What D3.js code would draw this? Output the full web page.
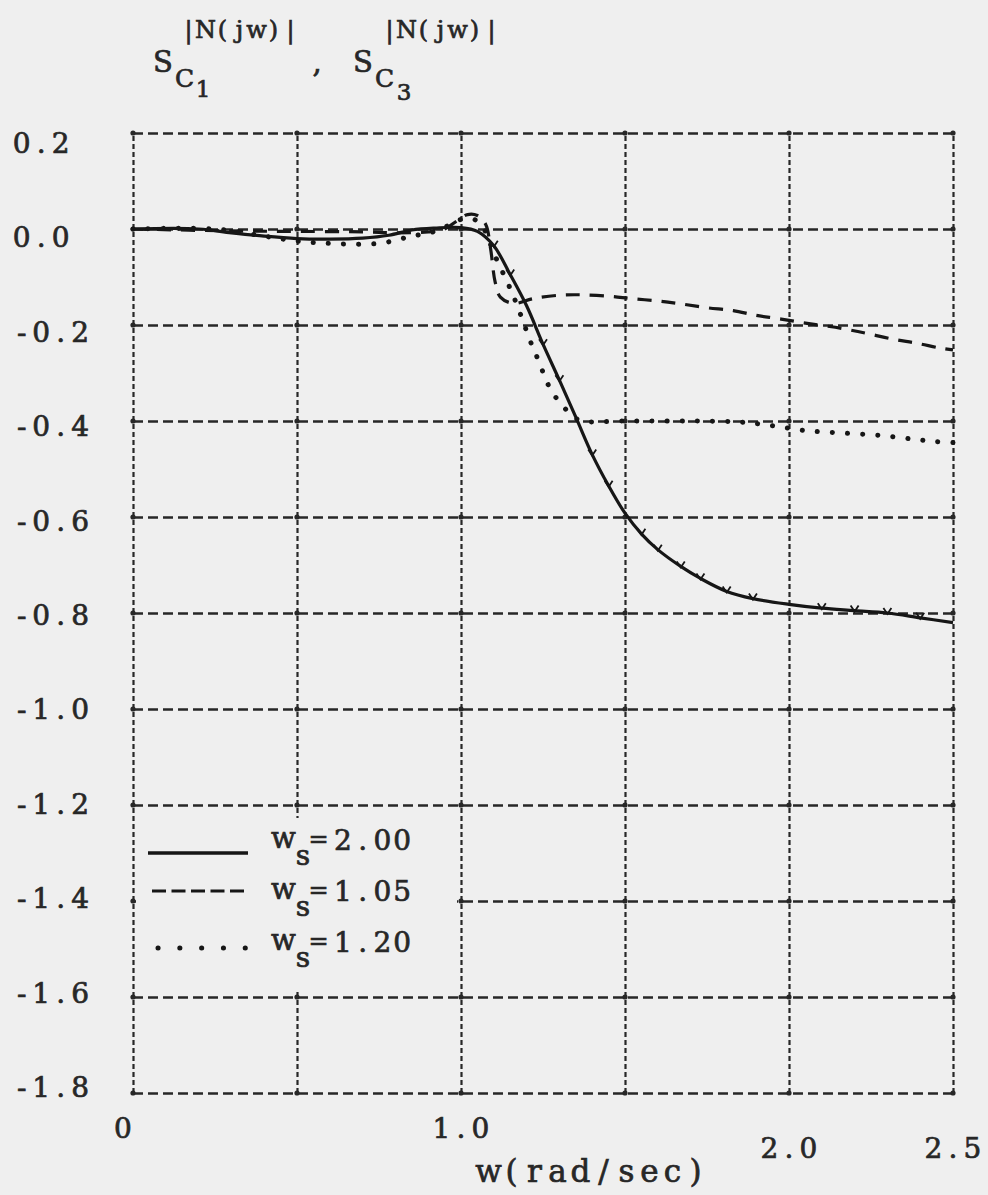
<!DOCTYPE html>
<html>
<head>
<meta charset="utf-8">
<script src="https://cdn.jsdelivr.net/npm/d3@7"></script>
<style>
  html, body { margin: 0; padding: 0; background: #efefef; }
  #stage { width: 988px; height: 1195px; }
</style>
</head>
<body>
<div id="stage"></div>
<script>
// frequency axis (rad/sec) and sensitivity values
const solidW = [0, 0.2, 0.3, 0.4, 0.5, 0.6, 0.7, 0.78, 0.85, 0.92, 1.0, 1.05, 1.1, 1.15, 1.2, 1.25, 1.3, 1.35, 1.4, 1.45, 1.5, 1.55, 1.6, 1.67, 1.73, 1.81, 1.89, 2.0, 2.1, 2.2, 2.3, 2.4, 2.5];
const solidV = [0, 0, -0.008, -0.015, -0.02, -0.021, -0.019, -0.013, -0.002, 0.002, 0.003, -0.005, -0.035, -0.095, -0.16, -0.24, -0.315, -0.392, -0.47, -0.535, -0.592, -0.635, -0.668, -0.703, -0.728, -0.755, -0.77, -0.782, -0.79, -0.795, -0.8, -0.81, -0.82];

const dashedW = [0, 0.3, 0.5, 0.7, 0.8, 0.9, 0.95, 0.99, 1.02, 1.05, 1.075, 1.09, 1.104, 1.12, 1.16, 1.22, 1.3, 1.36, 1.45, 1.52, 1.6, 1.67, 1.75, 1.83, 1.9, 1.97, 2.05, 2.16, 2.24, 2.32, 2.39, 2.46, 2.5];
const dashedV = [0, -0.004, -0.005, -0.006, -0.008, -0.006, 0, 0.018, 0.03, 0.028, 0.01, -0.04, -0.11, -0.142, -0.155, -0.145, -0.138, -0.137, -0.14, -0.145, -0.15, -0.156, -0.164, -0.17, -0.18, -0.187, -0.196, -0.207, -0.218, -0.23, -0.238, -0.248, -0.252];

const dottedW = [0, 0.25, 0.4, 0.5, 0.6, 0.75, 0.85, 0.92, 0.97, 1.0, 1.04, 1.07, 1.1, 1.16, 1.215, 1.24, 1.26, 1.283, 1.31, 1.34, 1.37, 1.5, 1.7, 1.85, 1.95, 2.05, 2.16, 2.28, 2.38, 2.45, 2.5];
const dottedV = [0, 0, -0.015, -0.025, -0.03, -0.03, -0.015, -0.005, 0.01, 0.02, 0.02, 0, -0.05, -0.14, -0.24, -0.28, -0.316, -0.345, -0.368, -0.39, -0.4, -0.4, -0.4, -0.402, -0.41, -0.42, -0.425, -0.43, -0.438, -0.443, -0.445];

// small tick marks the plotter left along the solid curve (indices into solidW)
const solidMarks = [12, 13, 15, 16, 18, 19, 21, 22, 23, 24, 25, 26, 28, 29, 30, 31];

const xGrid = [0, 0.5, 1.0, 1.5, 2.0, 2.5];
const yGrid = [0.2, 0, -0.2, -0.4, -0.6, -0.8, -1.0, -1.2, -1.4, -1.6, -1.8];
const yTickLabels = ["0.2", "0.0", "-0.2", "-0.4", "-0.6", "-0.8", "-1.0", "-1.2", "-1.4", "-1.6", "-1.8"];
const xTicks = [0, 1.0, 2.0, 2.5];
const xTickLabels = ["0", "1.0", "2.0", "2.5"];
const legendLabels = ["2.00", "1.05", "1.20"];

const ink = "#272727";
const paper = "#efefef";
const font = "'DejaVu Serif', serif";

const width = 988;
const height = 1195;

const svg = d3
  .select("#stage")
  .append("svg")
  .attr("width", width)
  .attr("height", height)
  .attr("viewBox", `0 0 ${width} ${height}`);

svg.append("rect").attr("width", width).attr("height", height).attr("fill", paper);

const x = d3.scaleLinear().domain([0, 2.5]).range([133, 953]);
const y = d3.scaleLinear().domain([0.2, -1.8]).range([133, 1093]);

// typewriter text: every glyph centred in its own fixed-pitch cell
function cells(str, x0, p) {
  return str
    .split("")
    .map((c, i) => x0 + p * (i + 0.5))
    .join(" ");
}

function typedText(g, size) {
  return g
    .append("text")
    .attr("font-family", font)
    .attr("font-size", size + "px")
    .attr("text-anchor", "middle")
    .attr("fill", ink)
    .attr("stroke", ink)
    .attr("stroke-width", 0.7);
}

function typed(g, str, x0, py, size, p) {
  return typedText(g, size).attr("x", cells(str, x0, p)).attr("y", py).text(str);
}

function piece(t, str, x0, py, size, p) {
  t.append("tspan")
    .attr("x", cells(str, x0, p))
    .attr("y", py)
    .attr("font-size", size + "px")
    .text(str);
}

// dashed grid (frame included)
const gx = svg
  .append("g")
  .attr("transform", `translate(0,${y(-1.8)})`)
  .call(d3.axisBottom(x).tickValues(xGrid).tickSize(-(y(-1.8) - y(0.2))).tickFormat(""));
gx.select(".domain").remove();
gx.selectAll("line")
  .attr("stroke", ink)
  .attr("stroke-width", 2.2)
  .attr("stroke-dasharray", "5,3");

const gy = svg
  .append("g")
  .attr("transform", `translate(${x(0)},0)`)
  .call(d3.axisLeft(y).tickValues(yGrid).tickSize(-(x(2.5) - x(0))).tickFormat(""));
gy.select(".domain").remove();
gy.selectAll("line")
  .attr("stroke", ink)
  .attr("stroke-width", 2.3)
  .attr("stroke-dasharray", "10,5");

// little dots where grid lines cross
const crossings = [];
xGrid.forEach((a) => yGrid.forEach((b) => crossings.push([a, b])));
svg
  .append("g")
  .selectAll("circle")
  .data(crossings)
  .join("circle")
  .attr("cx", (d) => x(d[0]))
  .attr("cy", (d) => y(d[1]))
  .attr("r", 2.6)
  .attr("fill", ink);

// y tick labels, typed at the left margin (drift a little up the page)
const yl = svg.append("g");
yGrid.forEach((d, i) => {
  typed(yl, yTickLabels[i], 12, y(d) + 20 + (d - 0.2) * 8, 28, 19.5);
});

// x tick labels (typed at slightly different heights)
const xl = svg.append("g");
xTicks.forEach((d, i) => {
  const s = xTickLabels[i];
  const cx = x(d) + (d === 0 ? -10 : 0);
  typed(xl, s, cx - (s.length * 19.5) / 2, y(-1.8) + (d >= 2 ? 65 : 45), 28, 19.5);
});

typed(svg, "w(rad/sec)", 477, 1182, 31, 23);

// title: S_C1^|N(jw)| , S_C3^|N(jw)|
const title = typedText(svg, 28);
piece(title, "S", 153, 72, 29, 20);
piece(title, "|N(jw)|", 180, 38, 24, 17);
piece(title, "C", 176, 87, 25, 17);
piece(title, "1", 195, 97, 23, 16);
piece(title, ",", 311, 72, 29, 12);
piece(title, "S", 353, 72, 29, 20);
piece(title, "|N(jw)|", 381, 38, 24, 17);
piece(title, "C", 376, 87, 25, 17);
piece(title, "3", 396, 100, 23, 16);

// curves
const line = d3
  .line()
  .x((d) => x(d[0]))
  .y((d) => y(d[1]))
  .curve(d3.curveCatmullRom.alpha(0.5));

const series = [
  { w: solidW, v: solidV, dash: null, sw: 3.2, cap: "butt" },
  { w: dashedW, v: dashedV, dash: "14,10", sw: 3.2, cap: "butt" },
  { w: dottedW, v: dottedV, dash: "0.1,15", sw: 5, cap: "round" },
];

svg
  .append("g")
  .selectAll("path")
  .data(series)
  .join("path")
  .attr("d", (s) => line(d3.zip(s.w, s.v)))
  .attr("fill", "none")
  .attr("stroke", "#161616")
  .attr("stroke-width", (s) => s.sw)
  .attr("stroke-linecap", (s) => s.cap)
  .attr("stroke-dasharray", (s) => s.dash);

svg
  .append("g")
  .selectAll("path")
  .data(solidMarks)
  .join("path")
  .attr("d", (i) => {
    const px = x(solidW[i]);
    const py = y(solidV[i]);
    return `M${px - 4},${py - 5}L${px},${py + 1}L${px + 4},${py - 5}`;
  })
  .attr("fill", "none")
  .attr("stroke", "#161616")
  .attr("stroke-width", 1.8);

// legend sits in a blank patch of the grid
const legend = svg.append("g");
legend
  .append("rect")
  .attr("x", x(0) + 3)
  .attr("y", y(-1.2) + 13)
  .attr("width", x(1.0) - x(0) - 7)
  .attr("height", y(-1.6) - y(-1.2) - 20)
  .attr("fill", paper);

const legendDash = [null, "14,5.5", "0.1,21.7"];
const legendCap = ["butt", "butt", "round"];
const legendSw = [3.6, 3.2, 5];
const legendX0 = [148, 152, 158];
const legendLift = [-3, 10, 4];

legendLabels.forEach((lab, i) => {
  const base = 850 + i * 51;
  legend
    .append("line")
    .attr("x1", legendX0[i])
    .attr("x2", 248)
    .attr("y1", base - legendLift[i])
    .attr("y2", base - legendLift[i])
    .attr("stroke", "#161616")
    .attr("stroke-width", legendSw[i])
    .attr("stroke-linecap", legendCap[i])
    .attr("stroke-dasharray", legendDash[i]);

  const t = typedText(legend, 28);
  piece(t, "w", 274, base - 2, 29, 19);
  piece(t, "s", 294, base + 15, 28, 18);
  piece(t, "=", 310, base - 3, 24, 17);
  piece(t, lab, 333, base, 28, 19.75);
});
</script>
</body>
</html>
